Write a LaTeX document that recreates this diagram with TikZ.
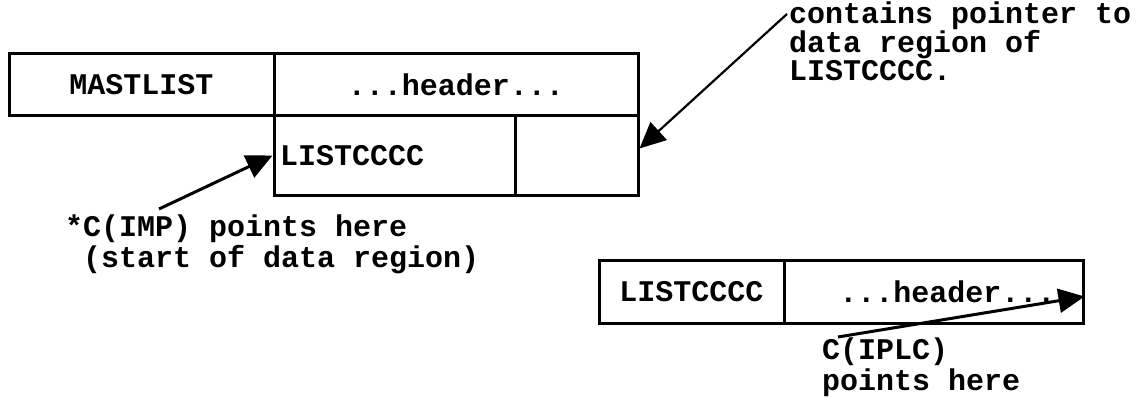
\documentclass[tikz,border=0pt]{standalone}
\usepackage{fontspec}
\setmonofont{Liberation Mono}
\usetikzlibrary{arrows.meta}

\begin{document}
\begin{tikzpicture}[x=1pt,y=-1pt,
		cell/.style={draw=black,line width=3pt,inner sep=0pt,font=\ttfamily\bfseries\fontsize{30}{31}\selectfont},
		note/.style={inner sep=0pt,anchor=base west,align=left,font=\ttfamily\bfseries\fontsize{30}{31}\selectfont},
		ptr/.style={draw=black,line width=3pt,-{Triangle[length=26pt,width=24pt]}}]
		\useasboundingbox (0,0) rectangle (1148,401);
		% MASTLIST block
		\node [cell,minimum width=265pt,minimum height=62pt] (mast) at (141.5,85) {MASTLIST};
		\node [cell,minimum width=364pt,minimum height=62pt] (mhead) at (456,85) {...header...};
		\node [cell,minimum width=241pt,minimum height=79pt,text width=229pt,align=left] (slot) at (394.5,155.5) {\raisebox{-12pt}{LISTCCCC}};
		\node [cell,minimum width=123pt,minimum height=79pt] (cptr) at (576.5,155.5) {};
		% LISTCCCC block
		\node [cell,minimum width=185pt,minimum height=63pt] (list) at (691.5,291.5) {LISTCCCC};
		\node [cell,minimum width=299pt,minimum height=63pt] (lhead) at (933.5,291.5) {\hspace*{28pt}...header...};
		% notes (anchored at the last line)
		\node [note] (impnote) at (65,267) {*C(IMP) points here\\\phantom{*}(start of data region)};
		\node [note,font=\ttfamily\bfseries\fontsize{30}{28.5}\selectfont] (ptrnote) at (789,81) {contains pointer to\\data region of\\LISTCCCC.};
		\node [note] (iplcnote) at (822,390) {C(IPLC)\\points here};
		\coordinate (impfoot) at (159,209);
		\coordinate (ptrfoot) at (787,14);
		\coordinate (iplcfoot) at (838,337);
		% pointers
		\draw [ptr] (impfoot) -- (slot.west);
		\draw [ptr,line width=2.2pt] (ptrfoot) -- ([yshift=7pt]cptr.east);
		\draw [ptr] (iplcfoot) -- ([yshift=-5pt]lhead.east);
\end{tikzpicture}
\end{document}
